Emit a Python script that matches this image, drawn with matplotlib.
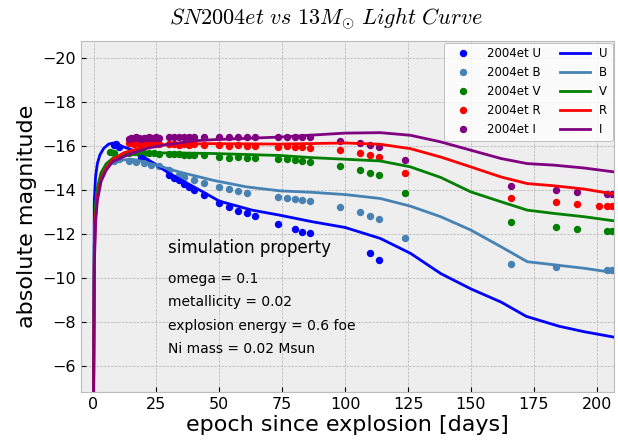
import numpy as np
import matplotlib
matplotlib.use("Agg")
import matplotlib.pyplot as plt

plt.style.use("bmh")
plt.rcParams["mathtext.fontset"] = "cm"

bands = ["U", "B", "V", "R", "I"]
colors = {"U": "blue", "B": "steelblue", "V": "green", "R": "red", "I": "purple"}

obs_day = {
    "U": [8, 9, 10, 19, 21, 23, 30, 32, 34, 36, 38, 40, 44, 50, 54, 57.5, 61, 64,
          73.5, 80, 83, 86, 110, 113.5],
    "B": [8, 10, 14, 17, 20, 23, 26, 30, 34, 36, 40, 44, 50, 54, 57.5, 61, 73.5, 77,
          80, 83, 86, 98, 106, 110, 113.5, 124, 166, 184, 204, 206],
    "V": [6.5, 8, 14, 16, 18, 20, 22, 24, 26, 30, 32, 34, 36, 38, 40, 44, 50, 54,
          57.5, 61, 64, 73.5, 77, 80, 83, 86, 98, 106, 110, 113.5, 124, 166, 184,
          192, 204, 206],
    "R": [14, 15, 16, 17, 18, 19, 20, 21, 22, 23, 24, 25, 26, 30, 32, 34, 36, 38, 40,
          44, 50, 54, 57.5, 61, 64, 73.5, 77, 80, 83, 86, 98, 106, 110, 113.5, 124,
          166, 184, 192, 201, 204, 206],
    "I": [14, 15, 16, 17, 18, 19, 20, 21, 22, 23, 24, 25, 26, 30, 32, 34, 36, 38, 40,
          44, 50, 54, 57.5, 61, 64, 73.5, 77, 80, 83, 86, 98, 106, 110, 113.5, 124,
          166, 184, 192, 204, 206],
}
obs_mag = {
    "U": [-16.05, -16.1, -15.95, -15.45, -15.35, -15.2, -14.68, -14.55, -14.45, -14.3,
          -14.15, -14.0, -13.77, -13.4, -13.21, -13.06, -12.95, -12.82, -12.48, -12.21,
          -12.1, -12.06, -11.12, -10.82],
    "B": [-15.35, -15.4, -15.35, -15.3, -15.25, -15.15, -15.1, -14.9, -14.7, -14.6,
          -14.45, -14.33, -14.15, -14.05, -13.95, -13.88, -13.7, -13.64, -13.58, -13.55,
          -13.5, -13.21, -13.01, -12.82, -12.68, -11.8, -10.62, -10.5, -10.36, -10.36],
    "V": [-15.74, -15.7, -15.7, -15.72, -15.7, -15.68, -15.7, -15.68, -15.66, -15.65,
          -15.63, -15.65, -15.6, -15.62, -15.6, -15.58, -15.5, -15.48, -15.5, -15.45,
          -15.47, -15.44, -15.4, -15.36, -15.33, -15.29, -15.09, -14.94, -14.8, -14.68,
          -13.85, -12.53, -12.33, -12.24, -12.15, -12.15],
    "R": [-16.13, -16.15, -16.12, -16.14, -16.1, -16.13, -16.15, -16.12, -16.1, -16.13,
          -16.11, -16.14, -16.1, -16.1, -16.12, -16.08, -16.1, -16.07, -16.09, -16.05,
          -16.05, -16.02, -16.04, -16.0, -16.02, -15.98, -16.0, -15.95, -15.97, -15.92,
          -15.82, -15.7, -15.59, -15.51, -14.79, -13.62, -13.45, -13.36, -13.29,
          -13.27, -13.27],
    "I": [-16.35, -16.38, -16.36, -16.4, -16.37, -16.35, -16.39, -16.36, -16.4, -16.38,
          -16.36, -16.4, -16.38, -16.42, -16.4, -16.43, -16.41, -16.42, -16.4, -16.42,
          -16.42, -16.43, -16.41, -16.42, -16.44, -16.42, -16.43, -16.42, -16.42,
          -16.42, -16.24, -16.15, -16.05, -15.97, -15.36, -14.2, -14.0, -13.92,
          -13.82, -13.82],
}

# 13 Msun model light curves
mod_day = {
    "U": [0, 0.3, 0.8, 1.5, 2.5, 4, 6, 8, 10, 12, 15, 20, 25, 30, 35, 41, 50, 63, 74,
          87, 100, 114, 126, 138, 150, 162, 172, 185, 195, 207],
    "B": [0, 0.3, 0.8, 1.5, 3, 5, 7.6, 10, 15.6, 20, 25, 34, 47.5, 60.8, 74, 87, 100,
          114, 126, 138, 150, 162, 172.4, 183, 195, 207],
    "V": [0, 0.3, 0.8, 1.5, 3, 5, 7.6, 12, 20, 30, 47.5, 74, 87, 100, 114, 126, 138,
          150, 162, 172.4, 183, 195, 207],
    "R": [0, 0.3, 0.8, 1.5, 3, 5, 7.6, 12, 18, 25, 35, 47.5, 74, 100, 114, 126, 138,
          150, 162, 172.4, 183, 195, 207],
    "I": [0, 0.3, 0.8, 1.5, 3, 5, 7.6, 13.5, 21, 27.6, 40, 47.5, 74, 100, 114, 126,
          138, 150, 162, 172.4, 183, 195, 207],
}
mod_mag = {
    "U": [-4, -13.5, -14.6, -15.2, -15.6, -15.9, -16.1, -16.15, -16.05, -15.97, -15.85,
          -15.5, -15.15, -14.77, -14.45, -14.08, -13.5, -13.09, -12.86, -12.56, -12.3,
          -11.8, -11.12, -10.2, -9.5, -8.9, -8.25, -7.8, -7.55, -7.3],
    "B": [-4, -11.5, -13.2, -14.0, -14.7, -15.05, -15.29, -15.37, -15.4, -15.3, -15.14,
          -14.83, -14.45, -14.15, -13.97, -13.9, -13.8, -13.62, -13.27, -12.79, -12.18,
          -11.42, -10.74, -10.6, -10.44, -10.24],
    "V": [-4, -11.5, -13.3, -14.1, -14.8, -15.2, -15.45, -15.6, -15.68, -15.7, -15.67,
          -15.58, -15.48, -15.41, -15.33, -15.06, -14.58, -13.92, -13.47, -13.09,
          -12.94, -12.79, -12.6],
    "R": [-4, -11.0, -12.8, -13.7, -14.5, -15.0, -15.4, -15.7, -15.9, -16.05, -16.1,
          -16.12, -16.1, -16.15, -16.09, -15.89, -15.51, -15.06, -14.6, -14.3, -14.2,
          -14.05, -13.82],
    "I": [-4, -10.5, -12.5, -13.5, -14.4, -14.9, -15.3, -15.6, -15.9, -16.05, -16.25,
          -16.3, -16.42, -16.6, -16.62, -16.5, -16.2, -15.82, -15.44, -15.21, -15.14,
          -15.01, -14.83],
}

props = ["omega = 0.1", "metallicity = 0.02", "explosion energy = 0.6 foe",
         "Ni mass = 0.02 Msun"]

fig = plt.figure(figsize=(6.18, 4.45), dpi=100)
fig.patch.set_facecolor("white")
ax = fig.add_axes([0.131, 0.119, 0.863, 0.789])

for b in bands:
    ax.plot(obs_day[b], obs_mag[b], "o", color=colors[b], ms=4.3, label="2004et " + b)
for b in bands:
    ax.plot(mod_day[b], mod_mag[b], "-", color=colors[b], lw=2, label=b)

ax.set_xlim(-5, 207)
ax.set_ylim(-4.8, -20.8)
ax.set_xticks(np.arange(0, 201, 25))
ax.set_yticks(np.arange(-20, -5, 2))
ax.tick_params(labelsize=11.5)
ax.set_xlabel("epoch since explosion [days]", fontsize=16, labelpad=2)
ax.set_ylabel("absolute magnitude", fontsize=16, labelpad=4)
ax.set_title(r"$SN2004et\ vs\ 13M_{\odot}\ Light\ Curve$", fontsize=16, pad=12,
             x=0.46)

ax.text(0.163, 0.395, "simulation property", transform=ax.transAxes, fontsize=12)
for i, s in enumerate(props):
    ax.text(0.163, 0.31 - i * 0.066, s, transform=ax.transAxes, fontsize=10)

leg = ax.legend(ncol=2, loc="upper right", fontsize=8.5, frameon=True,
                borderaxespad=0.15, handlelength=2.5, columnspacing=1.6)
leg.get_frame().set_facecolor("white")
leg.get_frame().set_edgecolor("#999999")

fig.savefig("out.png", dpi=100)
